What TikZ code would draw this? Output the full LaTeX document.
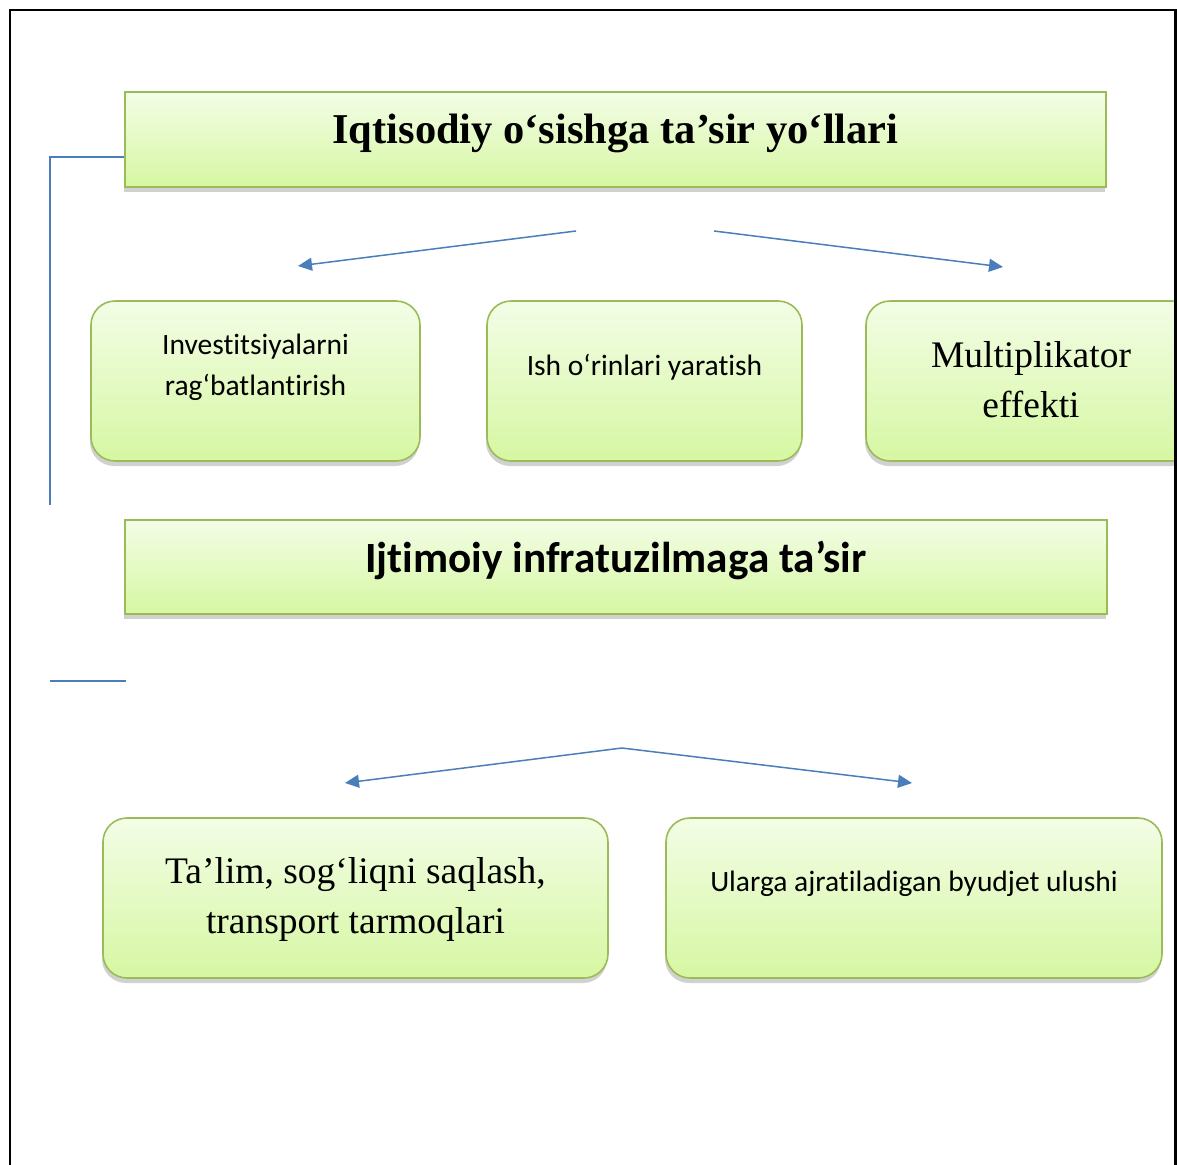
\documentclass[tikz,border=0pt]{standalone}
\usepackage{fontspec}
\setmainfont{Liberation Serif}
\newfontfamily\carl[Ligatures={NoCommon}]{Carlito}
\usetikzlibrary{arrows.meta,shadows}
\definecolor{gborder}{RGB}{155,187,89}
\definecolor{gtop}{RGB}{243,253,230}
\definecolor{gbot}{RGB}{214,247,162}
\definecolor{lblue}{RGB}{74,126,187}
\begin{document}
\begin{tikzpicture}[x=1pt,y=-1pt,
  box/.style={draw=gborder, line width=1.6pt, top color=gtop, bottom color=gbot,
    drop shadow={shadow xshift=-1pt,shadow yshift=-5pt,fill=black,opacity=0.18},
    inner sep=0pt},
  rbox/.style={box, rounded corners=24pt},
  txt/.style={align=center, text=black},
  conn/.style={draw=lblue, line width=1.5pt},
  arr/.style={conn, -{Triangle[length=14pt,width=13pt]}}]
\useasboundingbox (0,0) rectangle (1177,1164);
\clip (0,0) rectangle (1177,1164);

% title boxes
\node[box, minimum width=981pt, minimum height=95pt,
  label={[txt, font=\fontsize{42.5}{50}\selectfont\bfseries, yshift=6pt]center:Iqtisodiy o‘sishga ta’sir yo‘llari}]
  (t1) at (615.5,139.5) {};
\node[box, minimum width=982pt, minimum height=94pt,
  label={[txt, font=\fontsize{43.2}{50}\selectfont\carl\bfseries, yshift=7pt]center:Ijtimoiy infratuzilmaga ta’sir}]
  (t2) at (616,567) {};

% first row
\node[rbox, minimum width=329pt, minimum height=160pt,
  label={[txt, font=\fontsize{29.5}{41}\selectfont\carl, yshift=14pt]center:Investitsiyalarni\\rag‘batlantirish}]
  (a) at (255.5,381) {};
\node[rbox, minimum width=315pt, minimum height=160pt,
  label={[txt, font=\fontsize{29.5}{41}\selectfont\carl, yshift=14pt]center:Ish o‘rinlari yaratish}]
  (b) at (644.5,381) {};
\node[rbox, minimum width=330pt, minimum height=160pt,
  label={[txt, font=\fontsize{37.5}{50}\selectfont, yshift=1pt]center:Multiplikator\\effekti}]
  (c) at (1031,381) {};

% second row
\node[rbox, minimum width=505pt, minimum height=160pt,
  label={[txt, font=\fontsize{37.5}{50}\selectfont, yshift=-1pt]center:Ta’lim, sog‘liqni saqlash,\\transport tarmoqlari}]
  (d) at (355.5,898) {};
\node[rbox, minimum width=496pt, minimum height=160pt,
  label={[txt, font=\fontsize{29.5}{41}\selectfont\carl, yshift=14pt]center:Ularga ajratiladigan byudjet ulushi}]
  (e) at (914,898) {};

% connectors
\coordinate (v1) at (50,505);
\draw[conn] (t1.west |- 0,157) -| (v1);
\coordinate (h1) at (50,681);
\coordinate (h2) at (126,681);
\draw[conn] (h1) -- (h2);

\coordinate (s1) at (576,231);
\coordinate (e1) at (298,266);
\coordinate (s2) at (714,231);
\coordinate (e2) at (1003,267);
\draw[arr] (s1) -- (e1);
\draw[arr] (s2) -- (e2);

\coordinate (apex) at (622,748);
\coordinate (e3) at (345,783);
\coordinate (e4) at (912,783);
\draw[arr] (apex) -- (e3);
\draw[arr] (apex) -- (e4);

% frame
\draw[line width=2.5pt, black] (10,1170) -- (10,10) -- (1175.5,10) -- (1175.5,1170);
\end{tikzpicture}
\end{document}
